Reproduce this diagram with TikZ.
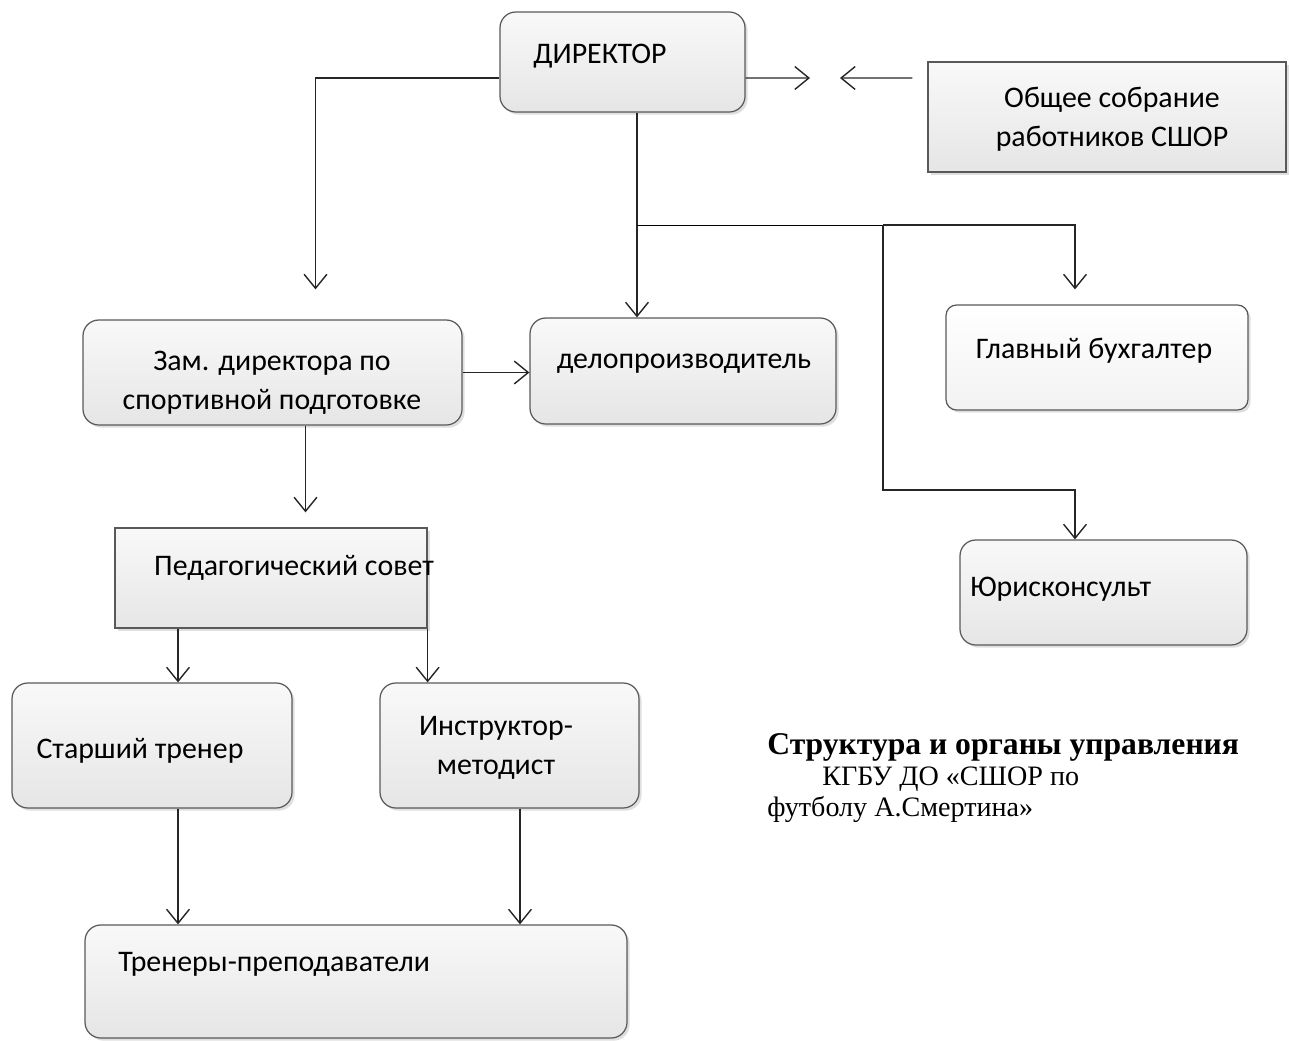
\documentclass[tikz,border=0pt]{standalone}
\usepackage{fontspec}
\setmainfont{Carlito}
\newfontfamily\capfont{Liberation Serif}
\usetikzlibrary{arrows.meta,shadows,fit}

\tikzset{
    box/.style={draw=black!65, line width=0.7pt, rounded corners=9pt, inner sep=0pt,
        top color=gray!5, bottom color=gray!20,
        drop shadow={opacity=0.25, shadow xshift=1.5pt, shadow yshift=-1.5pt}},
    sqbox/.style={box, rounded corners=0pt},
    lbl/.style={font=\fontsize{17}{22}\selectfont, align=center, inner sep=0pt},
    link/.style={draw=black!85, line width=0.8pt, -{Straight Barb[length=8pt,width=13pt]}}
}

\begin{document}
\begin{tikzpicture}[x=0.02cm, y=-0.02cm]
\useasboundingbox (0,0) rectangle (1289,1041);

% Boxes
\node[box, fit={(500,12) (745,112)}] (dir) {};
\node[sqbox, fit={(928,62) (1286,172)}] (gen) {};
\node[box, fit={(83,320) (462,425)}] (zam) {};
\node[box, fit={(530,318) (836,424)}] (delo) {};
\node[box, top color=white, bottom color=gray!10, rounded corners=6pt, fit={(946,305) (1248,410)}] (buh) {};
\node[box, fit={(960,540) (1247,645)}] (yur) {};
\node[sqbox, fit={(115,528) (427,628)}] (ped) {};
\node[box, fit={(12,683) (292,808)}] (st) {};
\node[box, fit={(380,683) (639,808)}] (instr) {};
\node[box, fit={(85,925) (627,1038)}] (tren) {};

% Labels
\node[lbl] (t-dir) at (600,56) {ДИРЕКТОР};
\node[lbl] (t-gen) at (1112,119) {Общее собрание\\работников СШОР};
\node[lbl] (t-zam) at (272,383) {Зам. директора по\\спортивной подготовке};
\node[lbl] (t-delo) at (684,364) {делопроизводитель};
\node[lbl] (t-buh) at (1094,351) {Главный бухгалтер};
\node[lbl, anchor=west] (t-yur) at (970,589) {Юрисконсульт};
\node[lbl] (t-ped) at (294,568) {Педагогический совет};
\node[lbl] (t-st) at (140,751) {Старший тренер};
\node[lbl] (t-instr) at (496,748) {Инструктор-\\методист};
\node[lbl, anchor=west] (t-tren) at (118,964) {Тренеры-преподаватели};

% Caption
\node[anchor=north west, align=left, inner sep=0pt,
      font=\capfont\fontsize{16}{17.6}\selectfont] (cap) at (767,733)
    {{\fontsize{18}{17.6}\selectfont\bfseries Структура и органы управления}\\
     \hspace*{1.1cm}КГБУ ДО «СШОР по\\
     футболу А.Смертина»};

% Routing points
\coordinate (meet) at (825,78);
\coordinate (br) at (637,225);
\coordinate (br2) at (883,225);
\coordinate (yurturn) at (883,490);

% Connections
\draw[link, shorten >=0.6cm] ([yshift=-0.32cm]dir.west) -| ([xshift=0.86cm]zam.north);
\draw[link] ([yshift=-0.32cm]dir.east) -- ([xshift=-0.3cm]meet);
\draw[link] ([yshift=0.78cm]gen.west) ++(-0.3cm,0) -- ([xshift=0.3cm]meet);
\draw[link] ([xshift=0.29cm]dir.south) -- ([xshift=0.29cm]dir.south |- delo.north);
\draw (br) -- (br2);
\draw[link, shorten >=0.3cm] (br2) -| ([xshift=-0.44cm]buh.north);
\draw[link] (br2) -- (yurturn) -| ([xshift=-0.57cm]yur.north);

\draw[link] (zam.east) -- (zam.east -| delo.west);
\draw[link, shorten >=0.3cm] ([xshift=0.66cm]zam.south) -- ([xshift=0.66cm]zam.south |- ped.north);

\draw[link] ([xshift=-1.86cm]ped.south) -- ([xshift=-1.86cm]ped.south |- st.north);
\draw[link] (ped.south east) -- (ped.south east |- instr.north);

\draw[link] ([xshift=0.52cm]st.south) -- ([xshift=0.52cm]st.south |- tren.north);
\draw[link] ([xshift=0.21cm]instr.south) -- ([xshift=0.21cm]instr.south |- tren.north);
\end{tikzpicture}
\end{document}
